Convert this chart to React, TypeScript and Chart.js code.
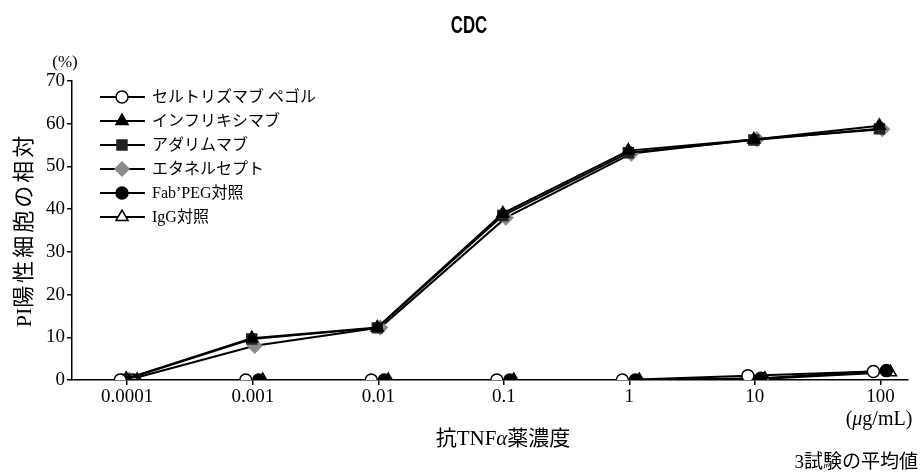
import { useEffect, useRef } from 'react';
import { Chart, registerables } from 'chart.js';

Chart.register(...registerables);

const concentrations = [0.0001, 0.001, 0.01, 0.1, 1, 10, 100];
const tickLabels = ['0.0001', '0.001', '0.01', '0.1', '1', '10', '100'];
const seriesNames = ['セルトリズマブ ペゴル', 'インフリキシマブ', 'アダリムマブ', 'エタネルセプト', 'Fab’PEG対照', 'IgG対照'];
const certolizumab = [0, 0, 0, 0, 0, 1.0, 2.0];
const infliximab = [0.3, 9.8, 12.3, 39.0, 53.7, 56.3, 59.5];
const adalimumab = [0.2, 9.6, 12.2, 38.5, 53.2, 56.2, 58.8];
const etanercept = [0.1, 8.0, 12.3, 38.0, 53.0, 56.4, 58.7];
const fabPeg = [0, 0, 0, 0, 0, 0.4, 2.2];
const igg = [0, 0, 0, 0, 0, 0.3, 1.8];

const SERIF = "'Liberation Serif', 'Noto Sans CJK JP', serif";

type Style = { point: string; bg: string; border: string; radius: number; dx: number };
const styles: Style[] = [
  { point: 'circle', bg: '#ffffff', border: '#000000', radius: 6, dx: -7 },
  { point: 'triangle', bg: '#000000', border: '#000000', radius: 7, dx: -1 },
  { point: 'rect', bg: '#222222', border: '#222222', radius: 7, dx: -1 },
  { point: 'rectRot', bg: '#8a8a8a', border: '#8a8a8a', radius: 7, dx: 2 },
  { point: 'circle', bg: '#000000', border: '#000000', radius: 6, dx: 6 },
  { point: 'triangle', bg: '#ffffff', border: '#000000', radius: 7, dx: 10 },
];
const seriesValues = [certolizumab, infliximab, adalimumab, etanercept, fabPeg, igg];

function drawMarker(ctx: CanvasRenderingContext2D, s: Style, x: number, y: number) {
  ctx.save();
  ctx.fillStyle = s.bg;
  ctx.strokeStyle = s.border;
  ctx.lineWidth = 1.5;
  ctx.beginPath();
  const r = s.radius;
  if (s.point === 'circle') {
    ctx.arc(x, y, r, 0, Math.PI * 2);
  } else if (s.point === 'triangle') {
    const half = (r * Math.sqrt(3)) / 2;
    ctx.moveTo(x, y - r);
    ctx.lineTo(x + half, y + r / 2);
    ctx.lineTo(x - half, y + r / 2);
  } else if (s.point === 'rect') {
    const sz = r * Math.SQRT1_2;
    ctx.rect(x - sz, y - sz, sz * 2, sz * 2);
  } else {
    ctx.moveTo(x, y - r);
    ctx.lineTo(x + r, y);
    ctx.lineTo(x, y + r);
    ctx.lineTo(x - r, y);
  }
  ctx.closePath();
  ctx.fill();
  ctx.stroke();
  ctx.restore();
}

type Part = [string, string, number?];
// draw text made of segments [text, font, letterSpacing]
function drawRich(ctx: CanvasRenderingContext2D, parts: Part[], x: number, y: number, align: 'center' | 'right' | 'left') {
  ctx.save();
  ctx.textAlign = 'left';
  ctx.textBaseline = 'middle';
  let total = 0;
  const widths = parts.map(([t, f, ls]) => {
    ctx.font = f;
    (ctx as any).letterSpacing = `${ls || 0}px`;
    const w = ctx.measureText(t).width;
    total += w;
    return w;
  });
  let cx = align === 'center' ? x - total / 2 : align === 'right' ? x - total : x;
  parts.forEach(([t, f, ls], i) => {
    ctx.font = f;
    (ctx as any).letterSpacing = `${ls || 0}px`;
    ctx.fillText(t, cx, y);
    cx += widths[i];
  });
  ctx.restore();
}

const jitterPlugin = {
  id: 'jitter',
  afterDatasetsUpdate(chart: any) {
    chart.data.datasets.forEach((ds: any, i: number) => {
      const meta = chart.getDatasetMeta(i);
      meta.data.forEach((el: any) => {
        el.x += ds.dx || 0;
      });
    });
  },
};

const legendPlugin = {
  id: 'customLegend',
  afterDraw(chart: any) {
    const ctx: CanvasRenderingContext2D = chart.ctx;
    ctx.save();
    seriesNames.forEach((name, i) => {
      const y = 97 + i * 24;
      ctx.strokeStyle = '#000';
      ctx.lineWidth = 2;
      ctx.beginPath();
      ctx.moveTo(100, y);
      ctx.lineTo(145, y);
      ctx.stroke();
      drawMarker(ctx, styles[i], 122, y);
      ctx.fillStyle = '#000';
      ctx.font = `16px ${SERIF}`;
      ctx.textAlign = 'left';
      ctx.textBaseline = 'middle';
      ctx.fillText(name, 152, y + 1);
    });
    ctx.restore();
  },
};

const textPlugin = {
  id: 'texts',
  afterDraw(chart: any) {
    const ctx: CanvasRenderingContext2D = chart.ctx;
    ctx.save();
    ctx.fillStyle = '#000';
    ctx.textBaseline = 'middle';
    ctx.textAlign = 'center';
    // condensed title
    ctx.save();
    ctx.translate(469, 26);
    ctx.scale(0.7, 1);
    ctx.font = `bold 24px 'Liberation Sans', Arial, sans-serif`;
    ctx.fillText('CDC', 0, 0);
    ctx.restore();

    ctx.font = `17px ${SERIF}`;
    ctx.fillText('(%)', 65, 63);
    drawRich(
      ctx,
      [
        ['抗TNF', `21px ${SERIF}`],
        ['α', `italic 21px ${SERIF}`],
        ['薬濃度', `21px ${SERIF}`],
      ],
      503,
      439,
      'center'
    );
    drawRich(
      ctx,
      [
        ['(', `20px ${SERIF}`],
        ['μ', `italic 20px ${SERIF}`],
        ['g/mL)', `20px ${SERIF}`],
      ],
      879,
      420,
      'center'
    );
    ctx.font = `19px ${SERIF}`;
    ctx.textAlign = 'right';
    ctx.fillText('3試験の平均値', 918, 463);

    ctx.save();
    ctx.translate(25, 230);
    ctx.rotate(-Math.PI / 2);
    drawRich(
      ctx,
      [
        ['PI', `22px ${SERIF}`, 0],
        ['陽性細胞の相対', `22px ${SERIF}`, 3],
      ],
      0,
      0,
      'center'
    );
    ctx.restore();
    ctx.restore();
  },
};

export default function App() {
  const ref = useRef<HTMLCanvasElement | null>(null);
  useEffect(() => {
    if (!ref.current) return;
    const datasets = seriesValues.map((vals, i) => ({
      label: seriesNames[i],
      data: vals.map((v, j) => ({ x: concentrations[j], y: v })),
      borderColor: '#000000',
      borderWidth: 2,
      pointStyle: styles[i].point,
      pointRadius: styles[i].radius,
      pointBackgroundColor: styles[i].bg,
      pointBorderColor: styles[i].border,
      pointBorderWidth: 1.5,
      tension: 0,
      fill: false,
      dx: styles[i].dx,
    }));
    const chart = new Chart(ref.current, {
      type: 'line',
      data: { datasets } as any,
      options: {
        animation: false,
        responsive: false,
        layout: { padding: { top: 81, right: 14, left: 0, bottom: 0 } },
        plugins: { legend: { display: false }, tooltip: { enabled: false }, title: { display: false } },
        scales: {
          x: {
            type: 'logarithmic',
            min: Math.pow(10, -4.44),
            max: Math.pow(10, 2.22),
            afterBuildTicks: (s: any) => {
              s.ticks = concentrations.map((v) => ({ value: v }));
            },
            afterFit: (s: any) => {
              s.height = 93;
            },
            ticks: {
              callback: (_v: any, i: number) => tickLabels[i],
              font: { family: SERIF, size: 19 },
              color: '#000',
              maxRotation: 0,
              autoSkip: false,
              padding: 1,
            },
            grid: { drawOnChartArea: false, drawTicks: true, tickLength: 5, color: '#000', lineWidth: 1.5 },
            border: { display: true, color: '#000', width: 1.5 },
          },
          y: {
            type: 'linear',
            min: 0,
            max: 70,
            afterFit: (s: any) => {
              s.width = 72;
            },
            ticks: {
              stepSize: 10,
              font: { family: SERIF, size: 19 },
              color: '#000',
              padding: 2,
            },
            grid: { drawOnChartArea: false, drawTicks: true, tickLength: 5, color: '#000', lineWidth: 1.5 },
            border: { display: true, color: '#000', width: 1.5 },
          },
        },
      } as any,
      plugins: [jitterPlugin, legendPlugin, textPlugin],
    });
    return () => chart.destroy();
  }, []);
  return (
    <div style={{ position: 'absolute', left: 0, top: 0, width: 922, height: 473, background: '#fff' }}>
      <canvas ref={ref} width={922} height={473} style={{ display: 'block' }} />
    </div>
  );
}
